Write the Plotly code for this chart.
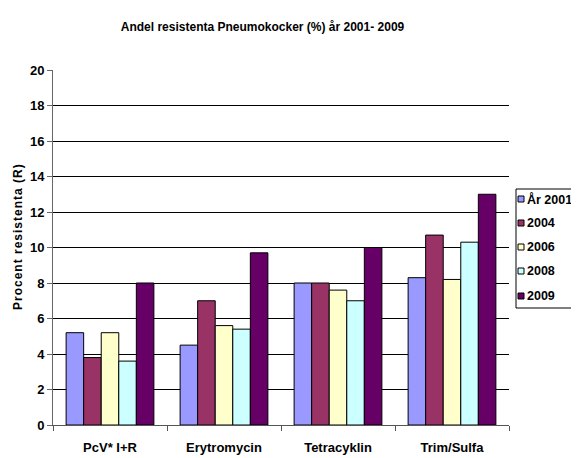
import plotly.graph_objects as go

categories = ["PcV* I+R", "Erytromycin", "Tetracyklin", "Trim/Sulfa"]
series_names = ["År 2001", "2004", "2006", "2008", "2009"]
v2001 = [5.2, 4.5, 8.0, 8.3]
v2004 = [3.8, 7.0, 8.0, 10.7]
v2006 = [5.2, 5.6, 7.6, 8.2]
v2008 = [3.6, 5.4, 7.0, 10.3]
v2009 = [8.0, 9.7, 10.0, 13.0]
values = [v2001, v2004, v2006, v2008, v2009]
colors = ["#9999FF", "#993366", "#FFFFCC", "#CCFFFF", "#660066"]

W, H = 571, 450
ML, MR, MT, MB = 45, 70, 62, 33
PW = W - ML - MR
PH = H - MT - MB

def px(xf):
    return (xf - ML) / PW

def py(yf):
    return 1 - (yf - MT) / PH

fig = go.Figure()
for name, vals, col in zip(series_names, values, colors):
    fig.add_trace(go.Bar(
        x=categories, y=vals, name=name, showlegend=False,
        marker=dict(color=col, line=dict(color="black", width=1)),
    ))

ff = "Liberation Sans, Arial, sans-serif"

# custom legend (box, keys, labels)
shapes = [dict(type="rect", xref="paper", yref="paper",
               x0=px(508), x1=px(600), y0=py(300), y1=py(181),
               line=dict(color="black", width=1), fillcolor="white", layer="above")]
annotations = []
row_y = [191, 215, 239, 263, 288]
for name, col, ry in zip(series_names, colors, row_y):
    shapes.append(dict(type="rect", xref="paper", yref="paper",
                       x0=px(510), x1=px(516), y0=py(ry + 3), y1=py(ry - 3),
                       line=dict(color="black", width=1), fillcolor=col, layer="above"))
    annotations.append(dict(text="<b>" + name + "</b>", xref="paper", yref="paper",
                            x=px(516.5), y=py(ry), xanchor="left", yanchor="middle",
                            showarrow=False,
                            font=dict(family=ff, size=12.5, color="black")))

annotations.append(dict(
    text='<span style="letter-spacing:1px"><b>Procent resistenta (R)</b></span>',
    xref="paper", yref="paper", x=px(10), y=py(229), xanchor="center", yanchor="middle",
    textangle=-90, showarrow=False,
    font=dict(family=ff, size=12, color="black")))

fig.update_layout(
    width=W, height=H,
    margin=dict(l=ML, r=MR, t=MT, b=MB, autoexpand=False),
    paper_bgcolor="white", plot_bgcolor="white",
    barmode="group", bargap=0.23, bargroupgap=0,
    title=dict(text="<b>Andel resistenta Pneumokocker (%) år 2001- 2009</b>",
               x=254.5 / W, xref="container", xanchor="center",
               y=1 - 18.5 / H, yanchor="middle",
               font=dict(family=ff, size=12, color="black")),
    font=dict(family=ff, size=12, color="black"),
    showlegend=False,
    shapes=shapes,
    annotations=annotations,
)
fig.update_xaxes(
    type="category", tickson="boundaries",
    showline=True, linecolor="#555555", linewidth=1,
    ticks="outside", ticklen=5, tickcolor="#555555",
    tickfont=dict(family=ff, size=13, color="black", weight="bold"),
    ticklabelstandoff=10,
    showgrid=False, automargin=False,
)
fig.update_yaxes(
    range=[0, 20], dtick=2,
    showline=True, linecolor="#666666", linewidth=1,
    ticks="outside", ticklen=5, tickcolor="#666666",
    showgrid=True, gridcolor="black", gridwidth=1,
    tickfont=dict(family=ff, size=13, color="black", weight="bold"),
    zeroline=False, automargin=False,
)

fig.write_html("out.html")
